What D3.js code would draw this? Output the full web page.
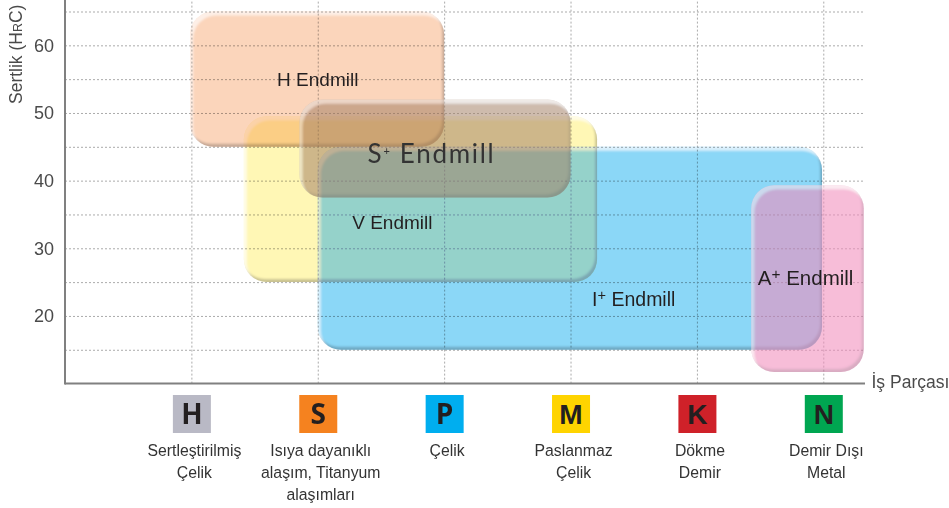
<!DOCTYPE html>
<html>
<head>
<meta charset="utf-8">
<script src="https://cdnjs.cloudflare.com/ajax/libs/d3/7.8.5/d3.min.js"></script>
<style>
html, body { margin: 0; padding: 0; background: #fff; overflow: hidden; }
svg { display: block; font-family: "Liberation Sans", Arial, sans-serif; isolation: isolate; }
.grid line { stroke: #ababab; stroke-width: 1; stroke-dasharray: 2 2; }
.grid .domain { display: none; }
</style>
</head>
<body>
<div id="chart"></div>
<script>
// materials along the x axis, index = position on the scale
var materialCodes = ["H", "S", "P", "M", "K", "N"];
var materialColors = ["#b9b9c5", "#f5821f", "#00aeef", "#ffd400", "#cf2129", "#00a651"];
var materialNames = [
  ["Sertleştirilmiş", "Çelik"],
  ["Isıya dayanıklı", "alaşım, Titanyum", "alaşımları"],
  ["Çelik"],
  ["Paslanmaz", "Çelik"],
  ["Dökme", "Demir"],
  ["Demir Dışı", "Metal"]
];

// endmill ranges: material position from/to, hardness from/to
var endmillNames = ["I+", "H", "V", "S+", "A+"];
var materialFrom = [1.0, -0.01, 0.415, 0.855, 4.43];
var materialTo = [4.99, 2.0, 3.21, 3.0, 5.32];
var hardnessLow = [15, 45, 25, 37.5, 11.7];
var hardnessHigh = [45, 65, 49.5, 52, 39.3];
var endmillColors = ["#8bd7f7", "#fbd5bb", "#fff7b5", "#a27e64", "#f18dbc"];

var hardnessTicks = [15, 20, 25, 30, 35, 40, 45, 50, 55, 60, 65];
var hardnessLabels = [20, 30, 40, 50, 60];

var width = 949, height = 508;
var svg = d3.select("#chart").append("svg")
  .attr("width", width)
  .attr("height", height);

var x = d3.scaleLinear().domain([-1, 5.33]).range([65, 865]);
var y = d3.scaleLinear().domain([10, 66.7]).range([383.6, 0]);

//////////////////////////////// bevel filter ////////////////////////////////
var defs = svg.append("defs");
var f = defs.append("filter").attr("id", "bevel")
  .attr("x", "-5%").attr("y", "-5%").attr("width", "110%").attr("height", "110%");
f.append("feGaussianBlur").attr("in", "SourceAlpha").attr("stdDeviation", 1.3).attr("result", "blur");
f.append("feOffset").attr("in", "blur").attr("dx", -2.5).attr("dy", -3.5).attr("result", "offDark");
f.append("feComposite").attr("in", "SourceAlpha").attr("in2", "offDark").attr("operator", "out").attr("result", "rimDark");
f.append("feFlood").attr("flood-color", "#2a2a3a").attr("flood-opacity", 0.42).attr("result", "dark");
f.append("feComposite").attr("in", "dark").attr("in2", "rimDark").attr("operator", "in").attr("result", "shade");
f.append("feOffset").attr("in", "blur").attr("dx", 2.5).attr("dy", 3.5).attr("result", "offLight");
f.append("feComposite").attr("in", "SourceAlpha").attr("in2", "offLight").attr("operator", "out").attr("result", "rimLight");
f.append("feFlood").attr("flood-color", "#ffffff").attr("flood-opacity", 0.6).attr("result", "light");
f.append("feComposite").attr("in", "light").attr("in2", "rimLight").attr("operator", "in").attr("result", "shine");
var fm = f.append("feMerge");
fm.append("feMergeNode").attr("in", "SourceGraphic");
fm.append("feMergeNode").attr("in", "shade");
fm.append("feMergeNode").attr("in", "shine");

// V and I+ overlap is bluer than a plain multiply, clip to I+ for it
defs.append("clipPath").attr("id", "clipI").append("rect")
  .attr("x", x(materialFrom[0]))
  .attr("y", y(hardnessHigh[0]))
  .attr("width", x(materialTo[0]) - x(materialFrom[0]))
  .attr("height", y(hardnessLow[0]) - y(hardnessHigh[0]))
  .attr("rx", 23);

//////////////////////////////// grid and axes ////////////////////////////////
var yAxis = d3.axisLeft(y)
  .tickValues(hardnessTicks)
  .tickSize(-(x(5.32) - x(-1)))
  .tickPadding(11)
  .tickFormat(function(d) { return hardnessLabels.indexOf(d) >= 0 ? d : ""; });
var yGrid = svg.append("g").attr("class", "grid")
  .attr("transform", "translate(" + x(-1) + ",0)")
  .call(yAxis);
yGrid.selectAll("text")
  .attr("font-family", "Liberation Sans")
  .attr("font-size", 18)
  .attr("fill", "#4a4a4a");

var xAxis = d3.axisBottom(x)
  .tickValues(d3.range(materialCodes.length))
  .tickSize(-y(10))
  .tickFormat("");
svg.append("g").attr("class", "grid")
  .attr("transform", "translate(0," + y(10) + ")")
  .call(xAxis);

//////////////////////////////// ranges ////////////////////////////////
function placeRange(sel, i) {
  sel.attr("x", x(materialFrom[i]))
    .attr("y", y(hardnessHigh[i]))
    .attr("width", x(materialTo[i]) - x(materialFrom[i]))
    .attr("height", y(hardnessLow[i]) - y(hardnessHigh[i]))
    .attr("rx", 23);
}

endmillNames.forEach(function(d, i) {
  svg.append("rect").attr("class", "endmill").call(placeRange, i)
    .attr("fill", endmillColors[i])
    .attr("filter", "url(#bevel)")
    .style("mix-blend-mode", (d == "S+" || d == "A+") ? "normal" : "multiply")
    .style("opacity", d == "S+" ? 0.52 : (d == "A+" ? 0.58 : 1));
  if (d == "V") {
    svg.append("g").attr("clip-path", "url(#clipI)")
      .style("mix-blend-mode", "screen")
      .append("rect").call(placeRange, i)
      .attr("fill", "rgb(22,10,86)");
  }
});

// axis lines go over the ranges
svg.append("line").attr("x1", x(-1)).attr("x2", x(-1)).attr("y1", 0).attr("y2", y(10) + 1)
  .attr("stroke", "#808080").attr("stroke-width", 2);
svg.append("line").attr("x1", x(-1)).attr("x2", x(5.33)).attr("y1", y(10)).attr("y2", y(10))
  .attr("stroke", "#808080").attr("stroke-width", 2);

//////////////////////////////// text ////////////////////////////////
var ink = "#231f20";
function endmillLabel(px, py, name, plus, size) {
  var t = svg.append("text").attr("x", x(px)).attr("y", y(py))
    .attr("font-size", size).attr("fill", ink).attr("text-anchor", "middle");
  t.append("tspan").text(name);
  if (plus) {
    t.append("tspan").attr("font-size", size * 0.75).attr("dy", -6).text("+");
    t.append("tspan").attr("dy", 6).text(" Endmill");
  } else {
    t.append("tspan").text(" Endmill");
  }
}
endmillLabel(1.0, 54, "H", false, 19);
endmillLabel(1.59, 32.8, "V", false, 19);
endmillLabel(3.5, 21.5, "I", true, 19.5);
endmillLabel(4.86, 24.6, "A", true, 20.5);

var sLabel = svg.append("text").attr("x", x(1.9)).attr("y", y(42.6))
  .attr("font-family", "Lato, 'Open Sans', sans-serif")
  .attr("font-size", 26).attr("fill", "#333").attr("text-anchor", "middle")
  .attr("letter-spacing", 1.7);
sLabel.append("tspan").text("S");
sLabel.append("tspan").attr("font-size", 11).attr("dy", -8).text("+");
sLabel.append("tspan").attr("dy", 8).text(" Endmill");

var yTitle = svg.append("text")
  .attr("transform", "translate(22,104) rotate(-90)")
  .attr("font-size", 17.5).attr("fill", "#4a4a4a");
yTitle.append("tspan").text("Sertlik (H");
yTitle.append("tspan").attr("font-size", 12.5).text("R");
yTitle.append("tspan").text("C)");

svg.append("text").attr("x", 871.5).attr("y", 388)
  .attr("font-size", 17.5).attr("fill", "#4a4a4a")
  .text("İş Parçası");

var badges = svg.selectAll("g.badge")
  .data(materialCodes)
  .enter()
  .append("g")
  .attr("class", "badge")
  .attr("transform", function(d, i) { return "translate(" + (x(i) + 0.5) + ",0)"; });
badges.append("rect")
  .attr("x", -19).attr("y", 395).attr("width", 38).attr("height", 38)
  .attr("fill", function(d, i) { return materialColors[i]; });
badges.append("text")
  .attr("y", 424).attr("text-anchor", "middle")
  .attr("font-family", function(d, i) { return i < 3 ? "Open Sans" : "Liberation Sans"; })
  .attr("font-weight", "bold")
  .attr("font-size", 28).attr("fill", ink)
  .text(function(d) { return d; });
badges.each(function(d, i) {
  d3.select(this).selectAll("text.name")
    .data(materialNames[i])
    .enter()
    .append("text")
    .attr("class", "name")
    .attr("transform", function(s, j) { return "translate(2.5," + (456 + j * 22) + ") scale(0.93,1)"; })
    .attr("text-anchor", "middle")
    .attr("font-size", 17)
    .attr("fill", "#333")
    .text(function(s) { return s; });
});
</script>
</body>
</html>
